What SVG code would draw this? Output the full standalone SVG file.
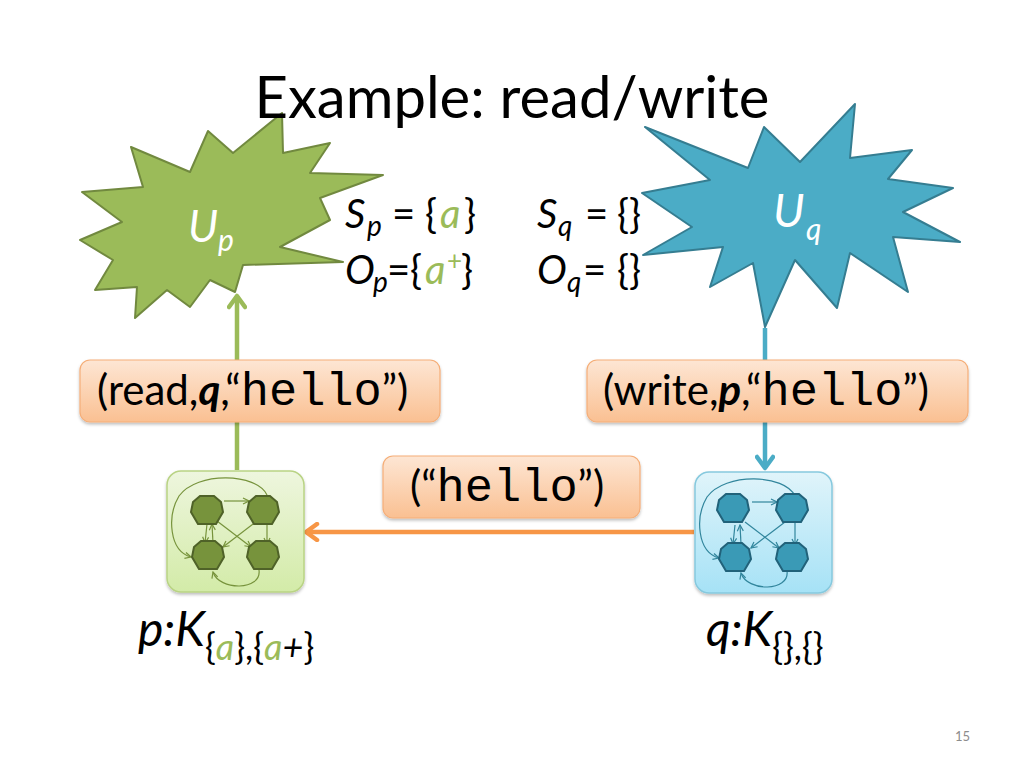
<svg xmlns="http://www.w3.org/2000/svg" width="1024" height="768" viewBox="0 0 1024 768">
<style>
  text { font-family: Lato, "Open Sans", "Liberation Sans", sans-serif; fill: #000; }
  .mono { font-family: "Liberation Mono", "Courier New", monospace; }
  .it { font-style: italic; }
  .ga { fill: #9BBB59; font-style: italic; }
  .lbl { fill: url(#peach); stroke: #F5AE78; stroke-width: 1.2; }
  .thin-g { fill: none; stroke: #77933C; stroke-width: 1.2; }
  .thin-b { fill: none; stroke: #31859C; stroke-width: 1.2; }
  .hep-g { fill: #77933C; stroke: #4F6228; stroke-width: 2; }
  .hep-b { fill: #3A9AB6; stroke: #21627A; stroke-width: 2; }
  .conn { fill: none; stroke-width: 4.5; }
</style>
<defs>
  <linearGradient id="peach" x1="0" y1="0" x2="0" y2="1">
    <stop offset="0" stop-color="#FDE6D4"/>
    <stop offset="1" stop-color="#FAC092"/>
  </linearGradient>
  <linearGradient id="kg" x1="0" y1="0" x2="0" y2="1">
    <stop offset="0" stop-color="#EEF6DE"/>
    <stop offset="1" stop-color="#D3EBA8"/>
  </linearGradient>
  <linearGradient id="kb" x1="0" y1="0" x2="0" y2="1">
    <stop offset="0" stop-color="#E0F4FA"/>
    <stop offset="1" stop-color="#A6E2F6"/>
  </linearGradient>
  <filter id="sh" x="-10%" y="-10%" width="120%" height="130%">
    <feDropShadow dx="0" dy="2" stdDeviation="1.5" flood-color="#000" flood-opacity="0.25"/>
  </filter>
  <polygon id="hep" points="-7,-14 7,-14 14,-8 16,2 9,14 -9,14 -16,2 -14,-8"/>
  <marker id="mg" viewBox="0 0 20 20" refX="16" refY="10" markerWidth="20" markerHeight="20" markerUnits="userSpaceOnUse" orient="auto">
    <path d="M5,2 L16,10 L5,18" fill="none" stroke="#9BBB59" stroke-width="4.5" stroke-linecap="round" stroke-linejoin="round"/>
  </marker>
  <marker id="mb" viewBox="0 0 20 20" refX="16" refY="10" markerWidth="20" markerHeight="20" markerUnits="userSpaceOnUse" orient="auto">
    <path d="M5,2 L16,10 L5,18" fill="none" stroke="#4BACC6" stroke-width="4.5" stroke-linecap="round" stroke-linejoin="round"/>
  </marker>
  <marker id="mo" viewBox="0 0 20 20" refX="16" refY="10" markerWidth="20" markerHeight="20" markerUnits="userSpaceOnUse" orient="auto">
    <path d="M5,2 L16,10 L5,18" fill="none" stroke="#F79646" stroke-width="4.5" stroke-linecap="round" stroke-linejoin="round"/>
  </marker>
  <marker id="sg" viewBox="0 0 8 8" refX="7" refY="4" markerWidth="8" markerHeight="8" markerUnits="userSpaceOnUse" orient="auto">
    <path d="M1,1 L7,4 L1,7" fill="none" stroke="#77933C" stroke-width="1.2"/>
  </marker>
  <marker id="sb" viewBox="0 0 8 8" refX="7" refY="4" markerWidth="8" markerHeight="8" markerUnits="userSpaceOnUse" orient="auto">
    <path d="M1,1 L7,4 L1,7" fill="none" stroke="#31859C" stroke-width="1.2"/>
  </marker>
</defs>

<rect width="1024" height="768" fill="#FFFFFF"/>

<g id="connectors">
  <line class="conn" x1="237" y1="470" x2="237" y2="296" stroke="#9BBB59" marker-end="url(#mg)"/>
  <line class="conn" x1="765" y1="328" x2="765" y2="468" stroke="#4BACC6" marker-end="url(#mb)"/>
  <line class="conn" x1="694" y1="532" x2="306" y2="532" stroke="#F79646" marker-end="url(#mo)"/>
</g>

<g id="Up">
  <polygon points="282,113 283,153 330,143 310,173 383,175 320,198 330,220 280,247 343,262 243,265 235,292 210,280 190,307 167,290 135,318 137,287 95,290 113,260 80,240 122,222 82,192 143,187 131,147 190,172 208,131 233,153" fill="#9BBB59" stroke="#71893F" stroke-width="2" stroke-linejoin="round"/>
  <text x="188" y="242" font-size="44" class="it" style="fill:#fff">U<tspan font-size="30" x="218" y="251">p</tspan></text>
</g>

<g id="Uq">
  <polygon points="645,127 748,168 764,127 800,162 855,104 850,158 912,150 888,179 953,188 903,212 960,242 893,237 908,292 850,253 837,308 795,260 765,327 753,263 710,287 723,247 643,255 692,227 642,193 710,180" fill="#4BACC6" stroke="#357D91" stroke-width="2" stroke-linejoin="round"/>
  <text x="773" y="227" font-size="46" class="it" style="fill:#fff">U<tspan font-size="30" x="806" y="240">q</tspan></text>
</g>

<text x="512" y="118" font-size="58" text-anchor="middle">Example: read/write</text>

<g id="sets">
  <text font-size="40" y="228"><tspan class="it" x="345">S</tspan><tspan class="it" font-size="28" x="367" y="236">p</tspan><tspan x="392" y="228">=</tspan><tspan x="425">{</tspan><tspan class="ga" x="440">a</tspan><tspan x="464">}</tspan></text>
  <text font-size="40" y="284"><tspan class="it" x="345">O</tspan><tspan class="it" font-size="28" x="373" y="292">p</tspan><tspan x="387" y="284">=</tspan><tspan x="410">{</tspan><tspan class="ga" x="425">a</tspan><tspan class="ga" font-size="26" x="447" y="270" style="font-style:normal">+</tspan><tspan x="461" y="284">}</tspan></text>
  <text font-size="40" y="228"><tspan class="it" x="537">S</tspan><tspan class="it" font-size="28" x="558" y="236">q</tspan><tspan x="585" y="228">=</tspan><tspan x="617">{}</tspan></text>
  <text font-size="40" y="284"><tspan class="it" x="537">O</tspan><tspan class="it" font-size="28" x="567" y="292">q</tspan><tspan x="583" y="284">=</tspan><tspan x="617">{}</tspan></text>
</g>

<g id="lbl-read">
  <rect class="lbl" x="80" y="360" width="360" height="62" rx="10" filter="url(#sh)"/>
  <text x="97" y="405" font-size="42">(read,<tspan font-weight="bold" class="it">q</tspan>,“<tspan class="mono" font-size="47">hello</tspan>”)</text>
</g>

<g id="lbl-write">
  <rect class="lbl" x="587" y="360" width="381" height="62" rx="10" filter="url(#sh)"/>
  <text x="603" y="405" font-size="42">(write,<tspan font-weight="bold" class="it">p</tspan>,“<tspan class="mono" font-size="47">hello</tspan>”)</text>
</g>

<g id="lbl-hello">
  <rect class="lbl" x="383" y="456" width="257" height="62" rx="10" filter="url(#sh)"/>
  <text x="410" y="501" font-size="42">(“<tspan class="mono" font-size="47">hello</tspan>”)</text>
</g>

<g id="kernel-p" transform="translate(167,471)">
  <rect x="0" y="0" width="137" height="121" rx="14" fill="url(#kg)" stroke="#B9D384" stroke-width="1.5" filter="url(#sh)"/>
  <path class="thin-g" d="M100,24 C90,2 30,0 12,25 C0,45 2,80 24,86" marker-end="url(#sg)"/>
  <path class="thin-g" d="M92,99 C95,120 52,120 46,101" marker-end="url(#sg)"/>
  <line class="thin-g" x1="57" y1="30" x2="82" y2="30" marker-end="url(#sg)"/>
  <line class="thin-g" x1="100" y1="50" x2="100" y2="73" marker-end="url(#sg)"/>
  <line class="thin-g" x1="90" y1="50" x2="56" y2="76" marker-end="url(#sg)"/>
  <line class="thin-g" x1="50" y1="50" x2="84" y2="76" marker-end="url(#sg)"/>
  <line class="thin-g" x1="40" y1="53" x2="38" y2="72" marker-end="url(#sg)"/>
  <line class="thin-g" x1="46" y1="72" x2="45" y2="53" marker-end="url(#sg)"/>
  <use href="#hep" class="hep-g" x="40" y="39"/>
  <use href="#hep" class="hep-g" x="96" y="39"/>
  <use href="#hep" class="hep-g" x="41" y="84"/>
  <use href="#hep" class="hep-g" x="96" y="84"/>
</g>

<g id="kernel-q" transform="translate(695,472)">
  <rect x="0" y="0" width="137" height="121" rx="14" fill="url(#kb)" stroke="#86C9DE" stroke-width="1.5" filter="url(#sh)"/>
  <path class="thin-b" d="M100,24 C90,2 30,0 12,25 C0,45 2,80 24,86" marker-end="url(#sb)"/>
  <path class="thin-b" d="M92,99 C95,120 52,120 46,101" marker-end="url(#sb)"/>
  <line class="thin-b" x1="57" y1="30" x2="82" y2="30" marker-end="url(#sb)"/>
  <line class="thin-b" x1="100" y1="50" x2="100" y2="73" marker-end="url(#sb)"/>
  <line class="thin-b" x1="90" y1="50" x2="56" y2="76" marker-end="url(#sb)"/>
  <line class="thin-b" x1="50" y1="50" x2="84" y2="76" marker-end="url(#sb)"/>
  <line class="thin-b" x1="40" y1="53" x2="38" y2="72" marker-end="url(#sb)"/>
  <line class="thin-b" x1="46" y1="72" x2="45" y2="53" marker-end="url(#sb)"/>
  <use href="#hep" class="hep-b" x="38" y="36"/>
  <use href="#hep" class="hep-b" x="97" y="36"/>
  <use href="#hep" class="hep-b" x="40" y="85"/>
  <use href="#hep" class="hep-b" x="97" y="85"/>
</g>

<g id="name-p">
  <text x="138" y="646" font-size="48" class="it">p:K<tspan font-size="36" font-style="normal" y="660">{</tspan><tspan font-size="36" class="ga" y="660">a</tspan><tspan font-size="36" font-style="normal" y="660">},{</tspan><tspan font-size="36" class="ga" y="660">a</tspan><tspan font-size="36" y="660">+</tspan><tspan font-size="36" font-style="normal" y="660">}</tspan></text>
</g>

<g id="name-q">
  <text x="706" y="646" font-size="48" class="it">q:K<tspan font-size="36" font-style="normal" y="660">{},{}</tspan></text>
</g>

<text x="955" y="741" font-size="13" style="fill:#8C8C8C">15</text>
</svg>
